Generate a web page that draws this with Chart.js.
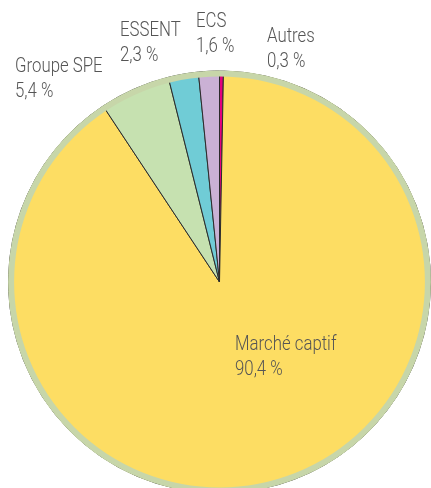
<!DOCTYPE html>
<html lang="fr">
<head>
  <meta charset="UTF-8" />
  <title>Parts de marché</title>
  <script src="https://cdn.jsdelivr.net/npm/chart.js"></script>
  <style>
    html, body { margin: 0; padding: 0; background: #fff; overflow: hidden; }
    #wrap { width: 431px; height: 488px; overflow: hidden; }
  </style>
</head>
<body>
  <div id="wrap">
    <canvas id="pie" width="431" height="494"></canvas>
  </div>

  <script>
    // slices, clockwise from 12 o'clock
    const labels = ['Autres', 'Marché captif', 'Groupe SPE', 'ESSENT', 'ECS'];
    const shares = [0.3, 90.4, 5.4, 2.3, 1.6];
    const colors = ['#e4007c', '#fddd63', '#c6e1b0', '#70ccd6', '#cab1d5'];

    // where each caption sits (left x, baseline of first line)
    const captionPos = {
      'Autres': [267, 42],
      'Marché captif': [235, 350],
      'Groupe SPE': [15, 72],
      'ESSENT': [120, 36],
      'ECS': [196, 27]
    };

    const FONT = '300 21px Roboto, "Noto Sans", sans-serif';
    const SQUEEZE = 0.8; // condensed look

    const fmt = v => v.toFixed(1).replace('.', ',') + ' %';

    // green rim drawn over the outer edge of the pie
    const rim = {
      id: 'rim',
      afterDatasetsDraw(chart) {
        const arc = chart.getDatasetMeta(0).data[0];
        const ctx = chart.ctx;
        ctx.save();
        ctx.beginPath();
        ctx.arc(arc.x, arc.y, arc.outerRadius - 2.6, 0, Math.PI * 2);
        ctx.lineWidth = 6;
        ctx.strokeStyle = '#c7d6a9';
        ctx.stroke();
        ctx.restore();
      }
    };

    const captions = {
      id: 'captions',
      afterDraw(chart) {
        const ctx = chart.ctx;
        ctx.save();
        ctx.font = FONT;
        ctx.fillStyle = '#555555';
        ctx.textAlign = 'left';
        ctx.textBaseline = 'alphabetic';
        labels.forEach((name, i) => {
          const [x, y] = captionPos[name];
          ctx.save();
          ctx.translate(x, y);
          ctx.scale(SQUEEZE, 1);
          ctx.fillText(name, 0, 0);
          ctx.fillText(fmt(shares[i]), 0, 25);
          ctx.restore();
        });
        ctx.restore();
      }
    };

    new Chart(document.getElementById('pie'), {
      type: 'pie',
      data: {
        labels: labels,
        datasets: [{
          data: shares,
          backgroundColor: colors,
          borderColor: '#2b2b2b',
          borderWidth: 1
        }]
      },
      options: {
        responsive: false,
        devicePixelRatio: 1,
        animation: false,
        events: [],
        layout: { padding: { top: 70, left: 8, right: 0, bottom: 0 } },
        plugins: {
          legend: { display: false },
          tooltip: { enabled: false }
        }
      },
      plugins: [rim, captions]
    });
  </script>
</body>
</html>
